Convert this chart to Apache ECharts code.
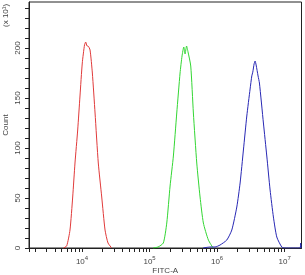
<!DOCTYPE html>
<html>
<head>
<meta charset="utf-8">
<script src="https://cdn.jsdelivr.net/npm/echarts@6/dist/echarts.min.js"></script>
<style>
html, body { margin: 0; padding: 0; background: #fff; }
#main { width: 305px; height: 275px; }
</style>
</head>
<body>
<div id="main"></div>
<script>
// x values are log10(FITC-A), y values are counts (x 10)
var redLog = [3.726, 3.773, 3.822, 3.862, 3.896, 3.936, 3.970, 4.004, 4.037, 4.055, 4.074, 4.089, 4.119, 4.153, 4.193, 4.241, 4.292, 4.341, 4.385, 4.440];
var redCount = [0, 2, 18, 51, 85, 118, 152, 185, 203, 206, 202, 202, 198, 175, 135, 85, 51, 18, 5, 0];

var greenLog = [5.052, 5.126, 5.204, 5.255, 5.304, 5.353, 5.403, 5.452, 5.481, 5.507, 5.526, 5.548, 5.570, 5.610, 5.649, 5.699, 5.748, 5.797, 5.871, 5.941];
var greenCount = [0, 1, 5, 25, 62, 92, 135, 175, 192, 201, 194, 202, 196, 182, 135, 85, 51, 25, 8, 0];

var blueLog = [5.793, 5.896, 5.970, 6.044, 6.144, 6.218, 6.292, 6.341, 6.390, 6.440, 6.489, 6.514, 6.529, 6.548, 6.563, 6.578, 6.607, 6.627, 6.686, 6.736, 6.785, 6.834, 6.884, 6.958, 7.007, 7.230, 7.237, 7.244];
var blueCount = [0, 1, 1, 3, 8, 18, 41, 65, 98, 132, 159, 172, 176, 184, 187, 183, 172, 165, 125, 92, 58, 31, 11, 1, 0, 0, 5, 0];

var xDecades = [4, 5, 6, 7];
var yLabels = [0, 50, 100, 150, 200];

function zip(xs, ys) {
  var out = [];
  for (var i = 0; i < xs.length; i++) out.push([xs[i], ys[i]]);
  return out;
}

var xMin = 3.215, xMax = 7.25;
var xTicks = [xMin];
for (var d = 3; d <= 7; d++) {
  for (var k = 1; k <= 9; k++) {
    var v = d + Math.log10(k);
    if (v >= xMin && v <= xMax) xTicks.push(v);
  }
}
var yTicks = [];
for (var t = 0; t <= 240; t += 10) yTicks.push(t);

var textColor = '#444';
var chart = echarts.init(document.getElementById('main'));
chart.setOption({
  animation: false,
  grid: {
    left: 29, right: 3.5, top: 2, bottom: 27,
    outerBoundsMode: 'none',
    containLabel: false,
    show: true, borderColor: '#222', borderWidth: 1
  },
  xAxis: {
    type: 'value',
    min: xMin, max: xMax,
    name: 'FITC-A',
    nameLocation: 'middle',
    nameGap: 19,
    nameMoveOverlap: false,
    nameTextStyle: { fontFamily: 'Liberation Sans', fontSize: 8, color: textColor },
    axisLine: { lineStyle: { color: '#222', width: 1 } },
    axisTick: { length: 4, customValues: xTicks, lineStyle: { color: '#222' } },
    splitLine: { show: false },
    axisLabel: {
      customValues: xDecades,
      margin: 6,
      formatter: function (v) { return '{b|10}{s|' + Math.round(v) + '}'; },
      rich: {
        b: { fontFamily: 'Liberation Sans', fontSize: 8, color: textColor, padding: [4, 0, 0, 0] },
        s: { fontFamily: 'Liberation Sans', fontSize: 6, color: textColor, padding: [0, 0, 4, 0] }
      }
    }
  },
  yAxis: {
    type: 'value',
    min: 0, max: 246,
    name: 'Count',
    nameLocation: 'middle',
    nameRotate: 90,
    nameGap: 19,
    nameMoveOverlap: false,
    nameTextStyle: { fontFamily: 'Liberation Sans', fontSize: 8, color: textColor },
    axisLine: { show: true, lineStyle: { color: '#222', width: 1 } },
    axisTick: { show: true, length: 4, customValues: yTicks, lineStyle: { color: '#222' } },
    splitLine: { show: false },
    axisLabel: {
      customValues: yLabels,
      rotate: 90,
      margin: 7,
      fontFamily: 'Liberation Sans', fontSize: 8, color: textColor
    }
  },
  graphic: [{
    type: 'text',
    x: 2, y: 27,
    rotation: Math.PI / 2,
    style: { text: '(x 10¹)', fontFamily: 'Liberation Sans', fontSize: 8, fill: textColor }
  }],
  series: [
    { type: 'line', data: zip(redLog, redCount), showSymbol: false, smooth: 0.2,
      lineStyle: { color: '#e03a3a', width: 1 } },
    { type: 'line', data: zip(greenLog, greenCount), showSymbol: false, smooth: 0.2,
      lineStyle: { color: '#33d633', width: 1 } },
    { type: 'line', data: zip(blueLog, blueCount), showSymbol: false, smooth: 0.2,
      lineStyle: { color: '#2828b4', width: 1 } }
  ]
});
window.onresize = chart.resize;
</script>
</body>
</html>
